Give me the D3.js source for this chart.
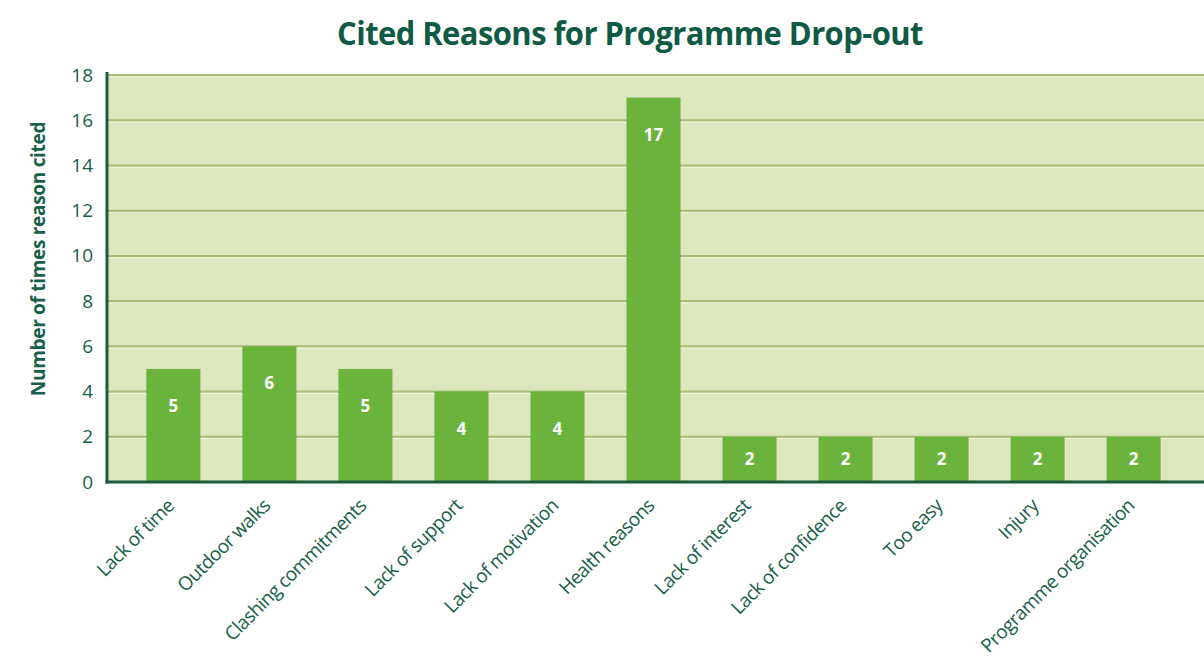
<!DOCTYPE html>
<html><head><meta charset="utf-8">
<script src="https://cdn.jsdelivr.net/npm/d3@7/dist/d3.min.js"></script>
<style>body{margin:0;background:#fff}svg{display:block}</style>
</head><body><svg id="c" width="1204" height="659"></svg>
<script>
const categories = ["Lack of time","Outdoor walks","Clashing commitments","Lack of support","Lack of motivation","Health reasons","Lack of interest","Lack of confidence","Too easy","Injury","Programme organisation"];
const values = [5,6,5,4,4,17,2,2,2,2,2];
const yTicks = [0,2,4,6,8,10,12,14,16,18];
const title = "Cited Reasons for Programme Drop-out";
const yTitle = "Number of times reason cited";

const svg = d3.select("#c");
const L = 107, R = 1204, T = 75, B = 482;
const x = d3.scaleBand().domain(categories).range([L, 1200]).paddingInner(0.4375).paddingOuter(0.41);
const y = d3.scaleLinear().domain([0,18]).range([B, T]);
const font = "'Open Sans', 'Noto Sans', sans-serif";
const txt = "#17604a";

svg.append("rect").attr("x", L).attr("y", y(18)).attr("width", R-L).attr("height", B-y(18)).attr("fill", "#dce7bd");

const g = svg.append("g");
yTicks.filter(d=>d>0).forEach(d=>{
  g.append("line").attr("x1", L).attr("x2", R).attr("y1", y(d)).attr("y2", y(d)).attr("stroke", "#a9bd76").attr("stroke-width", 2);
  g.append("line").attr("x1", L).attr("x2", R).attr("y1", y(d)+2).attr("y2", y(d)+2).attr("stroke", "#eef4d8").attr("stroke-width", 1);
});

svg.selectAll(".bar").data(values).join("rect")
  .attr("x", (d,i)=>x(categories[i])).attr("y", d=>y(d))
  .attr("width", x.bandwidth()).attr("height", d=>B-y(d)).attr("fill", "#6cb33e");

svg.selectAll(".val").data(values).join("text")
  .attr("x", (d,i)=>x(categories[i])+x.bandwidth()/2)
  .attr("y", d=>Math.min(y(d)+37, (y(d)+B)/2)).attr("dy","0.35em")
  .attr("text-anchor","middle").attr("fill","#fff").attr("font-family",font).attr("font-weight","bold").attr("font-size",17)
  .text(d=>d);

// axes
const yAxis = svg.append("g").attr("transform",`translate(${L-14},0)`).call(d3.axisLeft(y).tickValues(yTicks).tickSize(0).tickPadding(0));
yAxis.select(".domain").remove();
yAxis.selectAll("text").attr("font-family",font).attr("font-size",19).attr("fill",txt);

svg.append("line").attr("x1",L).attr("x2",L).attr("y1",y(18)-3).attr("y2",B+1.5).attr("stroke","#1d5a3e").attr("stroke-width",3);
svg.append("line").attr("x1",L-1.5).attr("x2",R).attr("y1",B).attr("y2",B).attr("stroke","#1d5a3e").attr("stroke-width",3);

const xAxis = svg.append("g").attr("transform",`translate(0,${B})`).call(d3.axisBottom(x).tickSize(0).tickPadding(0));
xAxis.select(".domain").remove();
xAxis.selectAll("text")
  .attr("font-family",font).attr("font-size",19).attr("fill",txt).attr("letter-spacing","-0.6")
  .attr("text-anchor","end").attr("dy",null).attr("y",0)
  .attr("transform","translate(2,25) rotate(-45)");

const tt = svg.append("text").attr("text-anchor","middle")
  .attr("font-family",font).attr("font-weight","bold").attr("font-size",33).attr("fill","#0f5a44").attr("letter-spacing","-0.6")
  .text(title);
const tw = tt.node().getComputedTextLength();
tt.attr("transform",`translate(630,45) scale(${586/tw},1)`);

svg.append("text").attr("transform",`translate(38,259) rotate(-90)`).attr("text-anchor","middle").attr("dy","0.35em")
  .attr("font-family",font).attr("font-weight","bold").attr("font-size",19).attr("fill",txt).attr("letter-spacing","-0.3")
  .text(yTitle);
</script></body></html>
